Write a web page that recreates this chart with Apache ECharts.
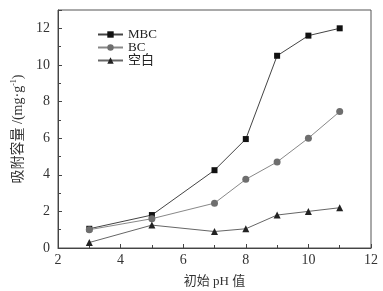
<!DOCTYPE html>
<html>
<head>
<meta charset="utf-8">
<script src="https://cdn.jsdelivr.net/npm/echarts@6/dist/echarts.min.js"></script>
<style>
html, body { margin: 0; padding: 0; background: #fff; }
#chart { width: 383px; height: 291px; }
</style>
</head>
<body>
<div id="chart"></div>
<script>
var phValues = [3, 5, 7, 8, 9, 10, 11];
var mbcData = [1.05, 1.8, 4.25, 5.95, 10.5, 11.6, 12.0];
var bcData = [1.0, 1.6, 2.45, 3.75, 4.7, 6.0, 7.45];
var blankData = [0.3, 1.25, 0.9, 1.05, 1.8, 2.0, 2.2];
var seriesNames = ['MBC', 'BC', '空白'];

function pairs(xs, ys) {
    return xs.map(function (x, i) { return [x, ys[i]]; });
}

var font = '"Liberation Serif", "DejaVu Serif", "Noto Sans CJK SC", serif';
var chart = echarts.init(document.getElementById('chart'));

var option = {
    backgroundColor: '#fff',
    animation: false,
    textStyle: { fontFamily: font },
    grid: {
        left: 58, right: 12, top: 10, bottom: 43,
        outerBoundsMode: 'none',
        show: true, borderColor: '#555', borderWidth: 1
    },
    legend: {
        orient: 'vertical',
        left: 92, top: 23,
        itemWidth: 25, itemHeight: 8, itemGap: 0,
        textStyle: { fontFamily: font, fontSize: 13, color: '#222' },
        data: seriesNames
    },
    xAxis: {
        type: 'value', min: 2, max: 12, interval: 2,
        name: '初始 pH 值', nameLocation: 'middle', nameGap: 27,
        nameTextStyle: { fontFamily: font, fontSize: 13, color: '#333' },
        axisLine: { lineStyle: { color: '#444' } },
        axisTick: { inside: true, length: 4, lineStyle: { color: '#444' } },
        minorTick: { show: true, splitNumber: 2, length: 3, lineStyle: { color: '#444' } },
        axisLabel: { fontFamily: font, fontSize: 14, color: '#333', margin: 5 },
        splitLine: { show: false }
    },
    yAxis: {
        type: 'value', min: 0, max: 13, interval: 2,
        name: '{a|吸附容量 /(mg·g}{s|-1}{a|)}', nameLocation: 'middle', nameGap: 30,
        nameTextStyle: {
            fontFamily: font, fontSize: 14, color: '#333',
            rich: {
                a: { fontFamily: font, fontSize: 14, color: '#333', lineHeight: 16 },
                s: { fontFamily: font, fontSize: 8, color: '#333', verticalAlign: 'top', lineHeight: 16 }
            }
        },
        axisLine: { lineStyle: { color: '#444' } },
        axisTick: { inside: true, length: 4, lineStyle: { color: '#444' } },
        minorTick: { show: true, splitNumber: 2, length: 3, lineStyle: { color: '#444' } },
        axisLabel: { fontFamily: font, fontSize: 14, color: '#333', margin: 8,
            showMaxLabel: false },
        splitLine: { show: false }
    },
    series: [
        {
            name: 'MBC', type: 'line', data: pairs(phValues, mbcData),
            symbol: 'rect', symbolSize: 6,
            lineStyle: { color: '#444', width: 1 },
            itemStyle: { color: '#111' }
        },
        {
            name: 'BC', type: 'line', data: pairs(phValues, bcData),
            symbol: 'circle', symbolSize: 7,
            lineStyle: { color: '#888', width: 1 },
            itemStyle: { color: '#6e6e6e' }
        },
        {
            name: '空白', type: 'line', data: pairs(phValues, blankData),
            symbol: 'triangle', symbolSize: 7,
            lineStyle: { color: '#666', width: 1 },
            itemStyle: { color: '#222' }
        }
    ]
};
chart.setOption(option);
</script>
</body>
</html>
